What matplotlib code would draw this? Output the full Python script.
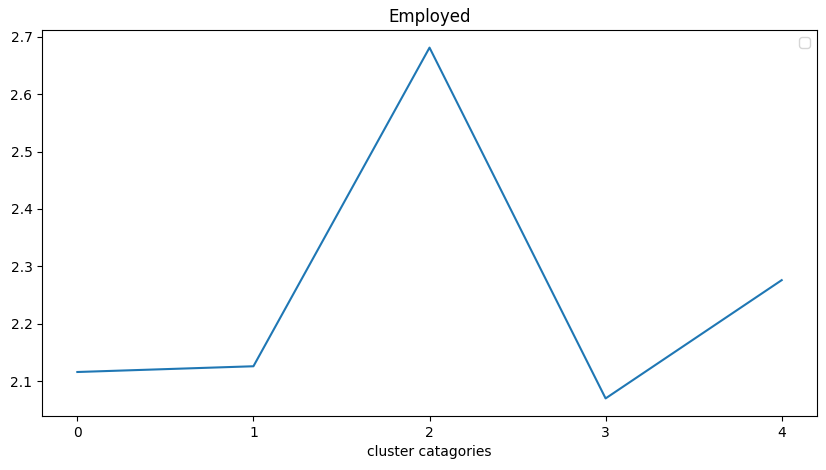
import matplotlib
matplotlib.use("Agg")
import matplotlib.pyplot as plt

clusters = [0, 1, 2, 3, 4]
employed = [2.116, 2.126, 2.681, 2.070, 2.276]

fig, ax = plt.subplots(figsize=(8.26, 4.70), dpi=100)
fig.subplots_adjust(left=0.051, right=0.989, top=0.936, bottom=0.115)

ax.plot(clusters, employed)
ax.set_xticks(clusters)
ax.set_title('Employed')
ax.set_xlabel('cluster catagories')
ax.legend()

plt.savefig('out.png')
